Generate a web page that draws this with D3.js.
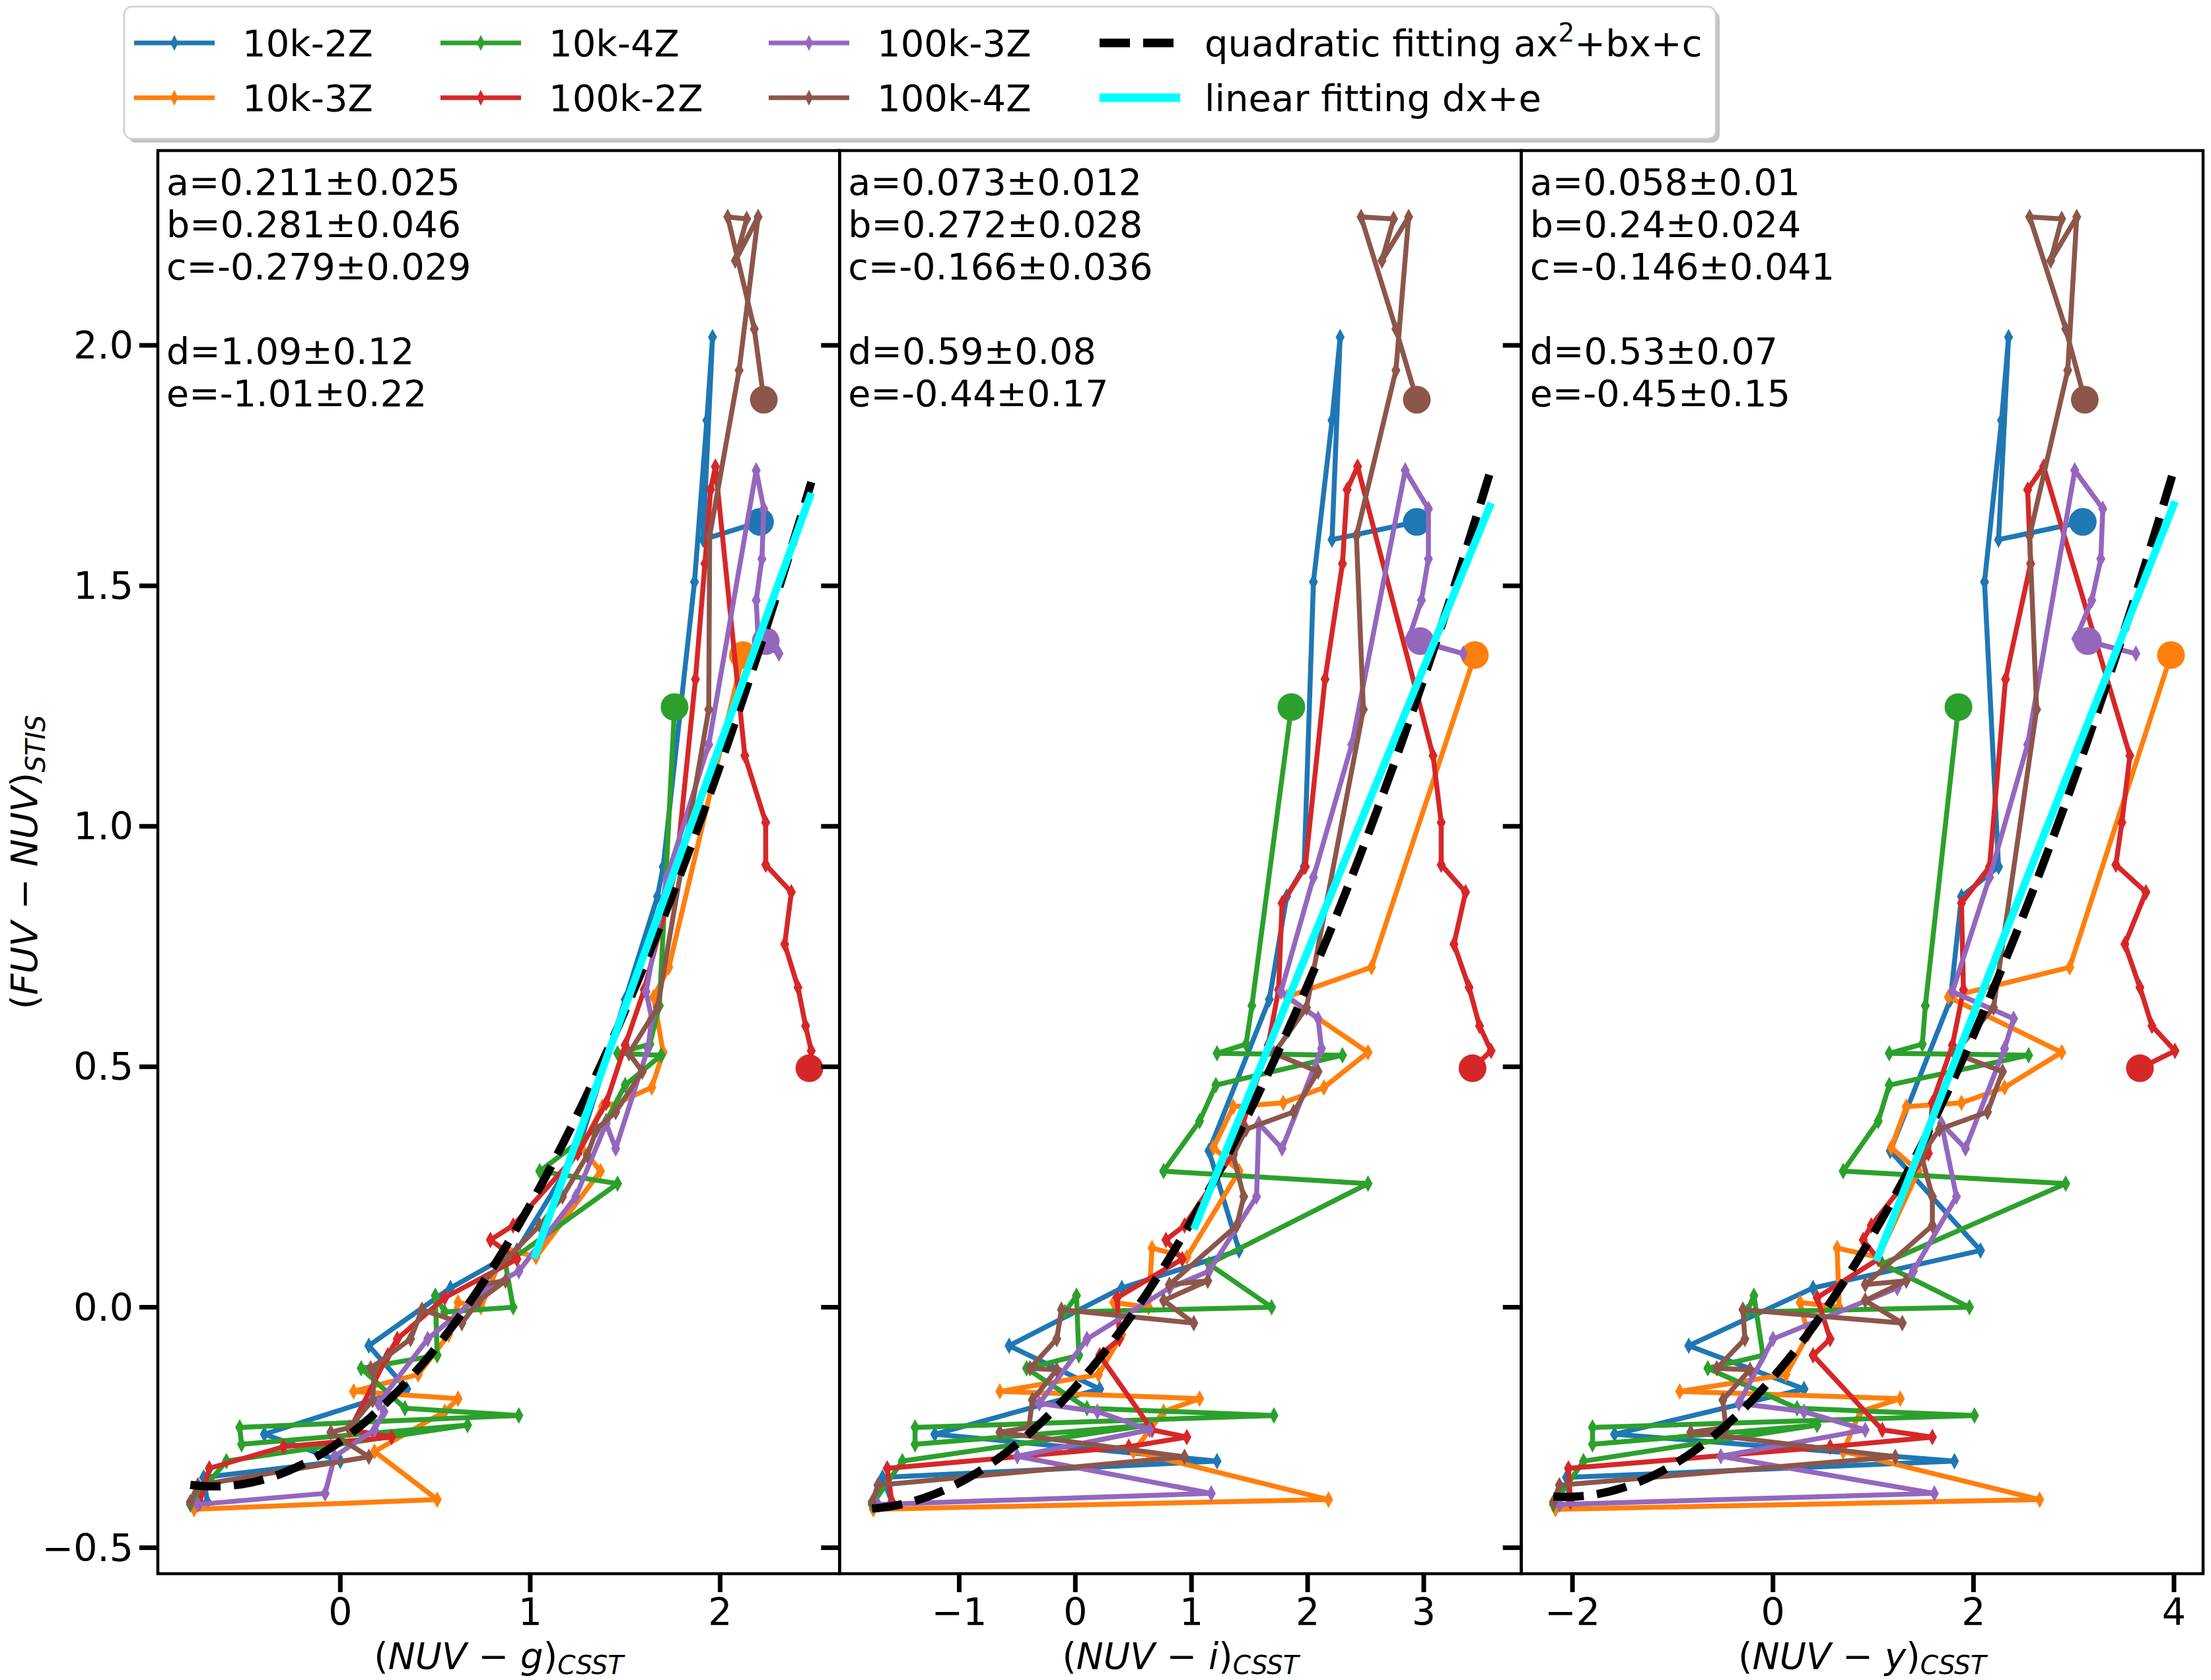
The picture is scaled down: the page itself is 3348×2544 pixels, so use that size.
<!DOCTYPE html>
<html>
<head>
<meta charset="utf-8">
<script src="https://cdn.jsdelivr.net/npm/d3@7"></script>
<style>
  body { margin: 0; background: #fff; }
  svg { display: block; }
  text { font-family: "DejaVu Sans", sans-serif; fill: #000; }
</style>
</head>
<body>
<div id="chart"></div>
<script>
// ---- data: y = (FUV-NUV)_STIS, g/i/yb = NUV-g, NUV-i, NUV-y ----
const seriesNames = ["10k-2Z", "10k-3Z", "10k-4Z", "100k-2Z", "100k-3Z", "100k-4Z"];
const seriesColors = ["#1f77b4", "#ff7f0e", "#2ca02c", "#d62728", "#9467bd", "#8c564b"];

const fuv_10k2Z = [1.633, 1.596, 2.017, 1.844, 1.508, 0.916, 0.854, 0.64, 0.325, 0.118, 0.04, -0.08, -0.17, -0.264, -0.32, -0.354, -0.405];
const nuvg_10k2Z = [2.21, 1.91, 1.96, 1.93, 1.865, 1.70, 1.67, 1.50, 1.25, 0.93, 0.58, 0.15, 0.35, -0.40, 0.0, -0.72, -0.70];
const nuvi_10k2Z = [2.94, 2.21, 2.28, 2.21, 2.05, 1.97, 1.82, 1.67, 1.15, 1.41, 0.40, -0.57, 0.21, -1.21, 1.22, -1.66, -1.58];
const nuvy_10k2Z = [3.09, 2.25, 2.35, 2.28, 2.11, 2.25, 1.88, 1.77, 1.17, 2.07, 0.40, -0.84, 0.31, -1.58, 1.81, -2.06, -2.02];

const fuv_10k3Z = [1.356, 0.707, 0.645, 0.53, 0.457, 0.425, 0.417, 0.332, 0.283, 0.104, 0.123, 0.0, 0.01, -0.057, -0.14, -0.175, -0.19, -0.217, -0.30, -0.40, -0.42];
const nuvg_10k3Z = [2.12, 1.73, 1.65, 1.70, 1.64, 1.46, 1.38, 1.27, 1.37, 1.03, 0.87, 0.74, 0.62, 0.57, 0.41, 0.07, 0.62, 0.55, 0.18, 0.51, -0.77];
const nuvi_10k3Z = [3.44, 2.55, 1.82, 2.52, 2.14, 1.79, 1.36, 1.19, 1.41, 0.96, 0.66, 0.63, 0.33, 0.40, 0.20, -0.65, 1.07, 0.76, 0.50, 2.18, -1.74];
const nuvy_10k3Z = [3.97, 2.96, 1.75, 2.88, 2.31, 1.88, 1.33, 1.18, 1.45, 1.05, 0.64, 0.66, 0.27, 0.35, 0.13, -0.93, 1.27, 0.87, 0.70, 2.66, -2.17];

const fuv_10k4Z = [1.248, 0.627, 0.547, 0.528, 0.524, 0.462, 0.387, 0.283, 0.257, 0.09, 0.0, -0.01, 0.024, -0.1, -0.127, -0.21, -0.225, -0.25, -0.285, -0.245, -0.32, -0.41];
const nuvg_10k4Z = [1.76, 1.68, 1.63, 1.46, 1.69, 1.50, 1.40, 1.05, 1.46, 0.87, 0.91, 0.55, 0.50, 0.51, 0.11, 0.34, 0.94, -0.53, -0.52, 0.67, -0.60, -0.79];
const nuvi_10k4Z = [1.86, 1.52, 1.47, 1.22, 2.30, 1.21, 1.07, 0.76, 2.52, 1.15, 1.69, -0.09, 0.01, 0.03, -0.42, 0.10, 1.71, -1.38, -1.38, 0.63, -1.49, -1.75];
const nuvy_10k4Z = [1.85, 1.52, 1.49, 1.16, 2.55, 1.16, 1.05, 0.70, 2.92, 1.09, 1.96, -0.26, -0.19, -0.10, -0.65, 0.24, 2.01, -1.80, -1.80, 0.44, -1.89, -2.19];

const fuv_100k2Z = [0.497, 0.533, 0.585, 0.665, 0.755, 0.863, 0.92, 1.008, 1.147, 1.748, 1.70, 1.546, 1.306, 0.916, 0.84, 0.66, 0.545, 0.425, 0.32, 0.17, 0.14, 0.10, 0.02, -0.066, -0.10, -0.255, -0.27, -0.29, -0.335, -0.405];
const nuvg_100k2Z = [2.47, 2.48, 2.45, 2.41, 2.34, 2.375, 2.24, 2.24, 2.13, 1.975, 1.95, 1.92, 1.87, 1.77, 1.72, 1.60, 1.50, 1.40, 1.25, 0.91, 0.79, 0.93, 0.55, 0.30, 0.25, 0.05, 0.27, -0.30, -0.69, -0.74];
const nuvi_100k2Z = [3.42, 3.58, 3.48, 3.39, 3.26, 3.36, 3.15, 3.15, 3.08, 2.43, 2.34, 2.30, 2.15, 1.98, 1.78, 1.75, 1.66, 1.50, 1.36, 0.94, 0.78, 0.92, 0.36, 0.38, 0.21, 0.66, 0.96, 0.46, -1.62, -1.58];
const nuvy_100k2Z = [3.66, 4.01, 3.78, 3.66, 3.51, 3.72, 3.42, 3.48, 3.56, 2.70, 2.54, 2.57, 2.32, 2.16, 1.88, 1.90, 1.79, 1.59, 1.55, 0.98, 0.90, 1.05, 0.44, 0.57, 0.40, 1.09, 1.59, 0.57, -2.04, -2.02];

const fuv_100k3Z = [1.385, 1.359, 1.39, 1.47, 1.556, 1.66, 1.74, 1.17, 0.894, 0.656, 0.6, 0.538, 0.33, 0.382, 0.23, 0.075, 0.04, -0.066, -0.2, -0.217, -0.255, -0.31, -0.387, -0.41];
const nuvg_100k3Z = [2.24, 2.31, 2.20, 2.19, 2.22, 2.23, 2.19, 1.94, 1.72, 1.61, 1.64, 1.62, 1.45, 1.40, 1.24, 0.94, 0.78, 0.46, 0.20, 0.23, 0.18, -0.03, -0.08, -0.75];
const nuvi_100k3Z = [2.97, 3.34, 2.87, 2.98, 3.04, 3.04, 2.84, 2.38, 2.05, 1.77, 2.09, 2.12, 1.78, 1.58, 1.56, 1.15, 0.81, 0.10, -0.31, 0.19, 0.64, -0.50, 1.17, -1.70];
const nuvy_100k3Z = [3.14, 3.62, 3.02, 3.18, 3.27, 3.29, 3.01, 2.54, 2.16, 1.79, 2.40, 2.31, 1.92, 1.68, 1.83, 1.40, 1.24, 0.0, -0.34, 0.31, 0.92, -0.52, 1.61, -2.13];

const fuv_100k4Z = [1.887, 2.034, 2.267, 2.263, 2.176, 2.267, 1.948, 1.604, 1.243, 0.623, 0.528, 0.49, 0.406, 0.37, 0.316, 0.23, 0.17, 0.047, 0.055, 0.014, -0.033, -0.005, -0.066, -0.127, -0.13, -0.193, -0.25, -0.26, -0.311, -0.37, -0.405];
const nuvg_100k4Z = [2.23, 2.18, 2.04, 2.14, 2.08, 2.20, 2.10, 1.945, 1.94, 1.67, 1.52, 1.59, 1.45, 1.35, 1.30, 1.17, 1.05, 0.74, 0.87, 0.73, 0.64, 0.43, 0.37, 0.16, 0.18, 0.17, 0.05, -0.05, 0.15, -0.75, -0.79];
const nuvi_100k4Z = [2.94, 2.76, 2.46, 2.74, 2.64, 2.87, 2.76, 2.42, 2.48, 1.99, 1.71, 2.09, 1.88, 1.47, 1.36, 1.45, 1.39, 0.81, 1.14, 0.76, 1.02, -0.12, -0.16, -0.39, -0.16, -0.37, -0.40, -0.65, 0.94, -1.70, -1.75];
const nuvy_100k4Z = [3.11, 2.92, 2.56, 2.88, 2.77, 3.03, 2.94, 2.56, 2.63, 2.20, 1.81, 2.29, 2.14, 1.66, 1.48, 1.59, 1.59, 0.92, 1.33, 0.92, 1.29, -0.30, -0.28, -0.56, -0.23, -0.50, -0.47, -0.82, 1.22, -2.13, -2.19];

// fit parameters per panel (g, i, y)
const fitA = [0.211, 0.073, 0.058], fitAErr = [0.025, 0.012, 0.01];
const fitB = [0.281, 0.272, 0.24], fitBErr = [0.046, 0.028, 0.024];
const fitC = [-0.279, -0.166, -0.146], fitCErr = [0.029, 0.036, 0.041];
const fitD = [1.09, 0.59, 0.53], fitDErr = [0.12, 0.08, 0.07];
const fitE = [-1.01, -0.44, -0.45], fitEErr = [0.22, 0.17, 0.15];
const linStart = [1.02, 1.02, 1.03];

const xTicks = [[0, 1, 2], [-1, 0, 1, 2, 3], [-2, 0, 2, 4]];
const yTicks = [-0.5, 0.0, 0.5, 1.0, 1.5, 2.0];
const xLabelBand = ["g", "i", "y"];

// ---- layout ----
const W = 3348, H = 2544;
const L = 239, R = 3336, T = 228, B = 2383;
const pw = (R - L) / 3;
const xDomains = [[-0.961, 2.629], [-2.03, 3.84], [-2.51, 4.29]];
const yDomain = [-0.554, 2.405];

const fuvAll = [fuv_10k2Z, fuv_10k3Z, fuv_10k4Z, fuv_100k2Z, fuv_100k3Z, fuv_100k4Z];
const colorAll = [
  [nuvg_10k2Z, nuvg_10k3Z, nuvg_10k4Z, nuvg_100k2Z, nuvg_100k3Z, nuvg_100k4Z],
  [nuvi_10k2Z, nuvi_10k3Z, nuvi_10k4Z, nuvi_100k2Z, nuvi_100k3Z, nuvi_100k4Z],
  [nuvy_10k2Z, nuvy_10k3Z, nuvy_10k4Z, nuvy_100k2Z, nuvy_100k3Z, nuvy_100k4Z]
];

const svg = d3.select("#chart").append("svg")
  .attr("width", W).attr("height", H)
  .attr("viewBox", `0 0 ${W} ${H}`);

const y = d3.scaleLinear().domain(yDomain).range([B, T]);
const diamond = "M0,-11 L6,0 L0,11 L-6,0 Z";
const fmtTick = v => (v < 0 ? "\u2212" + Math.abs(v) : String(v));

for (let p = 0; p < 3; p++) {
  const x0 = L + p * pw, x1 = L + (p + 1) * pw;
  const x = d3.scaleLinear().domain(xDomains[p]).range([x0, x1]);
  const g = svg.append("g");

  g.append("clipPath").attr("id", "clip" + p)
    .append("rect").attr("x", x0).attr("y", T).attr("width", pw).attr("height", B - T);
  const plot = g.append("g").attr("clip-path", `url(#clip${p})`);

  // series
  fuvAll.forEach((fy, s) => {
    const pts = fy.map((v, k) => [colorAll[p][s][k], v]);
    const col = seriesColors[s];
    plot.append("path")
      .attr("d", d3.line().x(d => x(d[0])).y(d => y(d[1]))(pts))
      .attr("fill", "none").attr("stroke", col)
      .attr("stroke-width", 7.5).attr("stroke-linejoin", "round");
    plot.selectAll(null).data(pts).enter().append("path")
      .attr("d", diamond)
      .attr("transform", d => `translate(${x(d[0])},${y(d[1])})`)
      .attr("fill", col).attr("stroke", col).attr("stroke-width", 1.5);
    plot.append("circle")
      .attr("cx", x(pts[0][0])).attr("cy", y(pts[0][1])).attr("r", 21)
      .attr("fill", col);
  });

  // fits
  const allX = colorAll[p].flat();
  const xmin = d3.min(allX), xmax = d3.max(allX);
  const qx = d3.range(0, 201).map(k => xmin + (xmax - xmin) * k / 200);
  plot.append("path")
    .attr("d", d3.line().x(v => x(v)).y(v => y(fitA[p] * v * v + fitB[p] * v + fitC[p]))(qx))
    .attr("fill", "none").attr("stroke", "#000").attr("stroke-width", 12.5)
    .attr("stroke-dasharray", "46,20");
  plot.append("path")
    .attr("d", d3.line().x(v => x(v)).y(v => y(fitD[p] * v + fitE[p]))([linStart[p], xmax]))
    .attr("fill", "none").attr("stroke", "#00ffff").attr("stroke-width", 11.5);

  // frame
  g.append("rect").attr("x", x0).attr("y", T).attr("width", pw).attr("height", B - T)
    .attr("fill", "none").attr("stroke", "#000").attr("stroke-width", 4.5);

  // x ticks
  xTicks[p].forEach(t => {
    g.append("line").attr("x1", x(t)).attr("x2", x(t)).attr("y1", B).attr("y2", B + 28)
      .attr("stroke", "#000").attr("stroke-width", 7);
    g.append("text").attr("x", x(t)).attr("y", B + 78).attr("text-anchor", "middle")
      .attr("font-size", 57).text(fmtTick(t));
  });
  // y ticks
  yTicks.forEach(t => {
    g.append("line").attr("x1", x0 - 28).attr("x2", x0).attr("y1", y(t)).attr("y2", y(t))
      .attr("stroke", "#000").attr("stroke-width", 7);
    if (p === 0) {
      g.append("text").attr("x", x0 - 37).attr("y", y(t) + 20).attr("text-anchor", "end")
        .attr("font-size", 57).text(d3.format(".1f")(t).replace("-", "\u2212"));
    }
  });

  // x label
  const xl = g.append("text").attr("x", (x0 + x1) / 2).attr("y", 2527)
    .attr("text-anchor", "middle").attr("font-size", 55);
  xl.append("tspan").text("(");
  xl.append("tspan").attr("font-style", "italic").text("NUV");
  xl.append("tspan").text(" \u2212 ");
  xl.append("tspan").attr("font-style", "italic").text(xLabelBand[p]);
  xl.append("tspan").text(")");
  xl.append("tspan").attr("font-style", "italic").attr("font-size", 39).attr("dy", 8).text("CSST");

  // fit annotation
  const lines = [
    `a=${fitA[p]}\u00b1${fitAErr[p]}`,
    `b=${fitB[p]}\u00b1${fitBErr[p]}`,
    `c=${fitC[p]}\u00b1${fitCErr[p]}`,
    "",
    `d=${fitD[p]}\u00b1${fitDErr[p]}`,
    `e=${fitE[p]}\u00b1${fitEErr[p]}`
  ];
  lines.forEach((s, k) => {
    if (s) g.append("text").attr("x", x0 + 13).attr("y", 295 + k * 64)
      .attr("font-size", 55.5).text(s);
  });
}

// y label
const yl = svg.append("text").attr("transform", `translate(56,${(T + B) / 2}) rotate(-90)`)
  .attr("text-anchor", "middle").attr("font-size", 56);
yl.append("tspan").text("(");
yl.append("tspan").attr("font-style", "italic").text("FUV");
yl.append("tspan").text(" \u2212 ");
yl.append("tspan").attr("font-style", "italic").text("NUV");
yl.append("tspan").text(")");
yl.append("tspan").attr("font-style", "italic").attr("font-size", 40).attr("dy", 12).text("STIS");

// legend
const leg = svg.append("g");
leg.append("rect").attr("x", 194).attr("y", 16).attr("width", 2410).attr("height", 200)
  .attr("rx", 12).attr("fill", "#888").attr("opacity", 0.5);
leg.append("rect").attr("x", 188).attr("y", 10).attr("width", 2410).attr("height", 200)
  .attr("rx", 12).attr("fill", "#fff").attr("stroke", "#d0d0d0").attr("stroke-width", 2.5);

const legCols = [203, 667, 1164, 1665];
const legRows = [65, 148];
seriesNames.forEach((name, s) => {
  const cx = legCols[Math.floor(s / 2)], cy = legRows[s % 2];
  leg.append("line").attr("x1", cx).attr("x2", cx + 122).attr("y1", cy).attr("y2", cy)
    .attr("stroke", seriesColors[s]).attr("stroke-width", 7);
  leg.append("path").attr("d", "M0,-12 L6,0 L0,12 L-6,0 Z")
    .attr("transform", `translate(${cx + 61},${cy})`).attr("fill", seriesColors[s]);
  leg.append("text").attr("x", cx + 164).attr("y", cy + 20).attr("font-size", 56).text(name);
});
leg.append("line").attr("x1", 1665).attr("x2", 1787).attr("y1", 65).attr("y2", 65)
  .attr("stroke", "#000").attr("stroke-width", 13).attr("stroke-dasharray", "46,20");
leg.append("line").attr("x1", 1665).attr("x2", 1787).attr("y1", 148).attr("y2", 148)
  .attr("stroke", "#00ffff").attr("stroke-width", 13);
const q = leg.append("text").attr("x", 1824).attr("y", 85).attr("font-size", 56);
q.append("tspan").text("quadratic fitting ax");
q.append("tspan").attr("font-size", 39).attr("dy", -22).text("2");
q.append("tspan").attr("dy", 22).text("+bx+c");
leg.append("text").attr("x", 1824).attr("y", 168).attr("font-size", 56).text("linear fitting dx+e");
</script>
</body>
</html>
